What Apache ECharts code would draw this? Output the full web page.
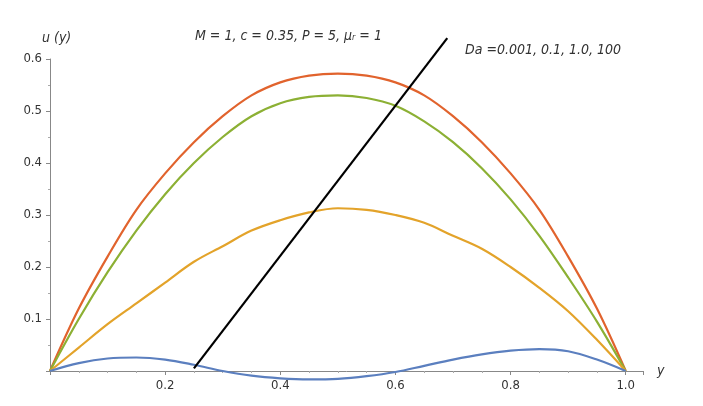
<!DOCTYPE html>
<html><head><meta charset="utf-8">
<script src="https://cdn.jsdelivr.net/npm/echarts@6/dist/echarts.min.js"></script>
<style>html,body{margin:0;background:#fff}#c{width:703px;height:406px}</style>
</head><body><div id="c"></div>
<script>
var xs=[0,0.05,0.1,0.15,0.2,0.25,0.3,0.35,0.4,0.45,0.5,0.55,0.6,0.65,0.7,0.75,0.8,0.85,0.9,0.95,1];
var orange=[0,0.12,0.22,0.31,0.38,0.44,0.49,0.53,0.555,0.568,0.572,0.568,0.555,0.53,0.49,0.44,0.38,0.31,0.22,0.12,0];
var green=[0,0.10,0.19,0.27,0.34,0.40,0.45,0.49,0.515,0.527,0.53,0.525,0.51,0.48,0.44,0.39,0.33,0.26,0.18,0.095,0];
var yellow=[0,0.045,0.09,0.13,0.17,0.21,0.24,0.27,0.29,0.305,0.313,0.31,0.30,0.285,0.26,0.235,0.20,0.16,0.115,0.06,0];
var blue=[0,0.015,0.024,0.026,0.022,0.012,0,-0.009,-0.014,-0.016,-0.015,-0.01,-0.002,0.01,0.022,0.032,0.039,0.042,0.038,0.022,0];
var arrowStart=[0.25,0.005], arrowEnd=[0.69,0.64];
var font="'Liberation Sans Narrow','DejaVu Sans Condensed',sans-serif";
function pts(a){return xs.map(function(x,i){return [x,a[i]];});}
function s(a,c){return {type:'line',data:pts(a),smooth:0.35,clip:false,symbol:'none',lineStyle:{color:c,width:2.2},z:3};}
var ch=echarts.init(document.getElementById('c'));
var ax={lineStyle:{color:'#888'}};
var arrowSeries={type:'line',data:[arrowStart,arrowEnd],symbol:'none',clip:false,lineStyle:{color:'#000',width:2.2},z:5,
  markPoint:{silent:true,symbol:'arrow',symbolSize:[11,14],symbolRotate:-(Math.atan2(0.635*520,0.44*576)*180/Math.PI-90),symbolOffset:[0,0],
   itemStyle:{color:'#000'},label:{show:false},data:[{coord:arrowEnd}]}};
ch.setOption({
 animation:false,
 grid:{left:50,right:60,top:59,bottom:35},
 xAxis:{type:'value',min:0,max:1.03,interval:0.2,axisLine:ax,axisTick:{lineStyle:{color:'#888'},length:4},
  minorTick:{show:true,splitNumber:4,length:2,lineStyle:{color:'#aaa'}},splitLine:{show:false},
  axisLabel:{showMinLabel:false,showMaxLabel:false,color:'#333',fontFamily:font,fontSize:13,formatter:function(v){return v.toFixed(1);}},
  name:'y',nameLocation:'end',nameGap:14,nameTextStyle:{fontStyle:'italic',fontFamily:font,fontSize:14,color:'#333',padding:[0,0,25,0]}},
 yAxis:{type:'value',min:0,max:0.6,interval:0.1,axisLine:{show:true,lineStyle:{color:'#888'}},axisTick:{show:true,lineStyle:{color:'#888'},length:4},
  minorTick:{show:true,splitNumber:2,length:2,lineStyle:{color:'#aaa'}},splitLine:{show:false},
  axisLabel:{showMinLabel:false,color:'#333',fontFamily:font,fontSize:13,formatter:function(v){return v.toFixed(1);}},
  name:'u (y)',nameGap:14,nameTextStyle:{fontStyle:'italic',fontFamily:font,fontSize:14,color:'#333',align:'left',padding:[0,0,0,-8]}},
 title:[{text:'M = 1, c = 0.35, P = 5, μᵣ = 1',left:190,top:24,textStyle:{fontStyle:'italic',fontWeight:'normal',fontFamily:font,fontSize:14,color:'#333'}},
        {text:'Da =0.001, 0.1, 1.0, 100',left:460,top:38,textStyle:{fontStyle:'italic',fontWeight:'normal',fontFamily:font,fontSize:14,color:'#333'}}],
 series:[s(orange,'#e1632d'),s(green,'#8cb034'),s(yellow,'#e3a32a'),s(blue,'#5b7fbf'),arrowSeries]
});
</script></body></html>
